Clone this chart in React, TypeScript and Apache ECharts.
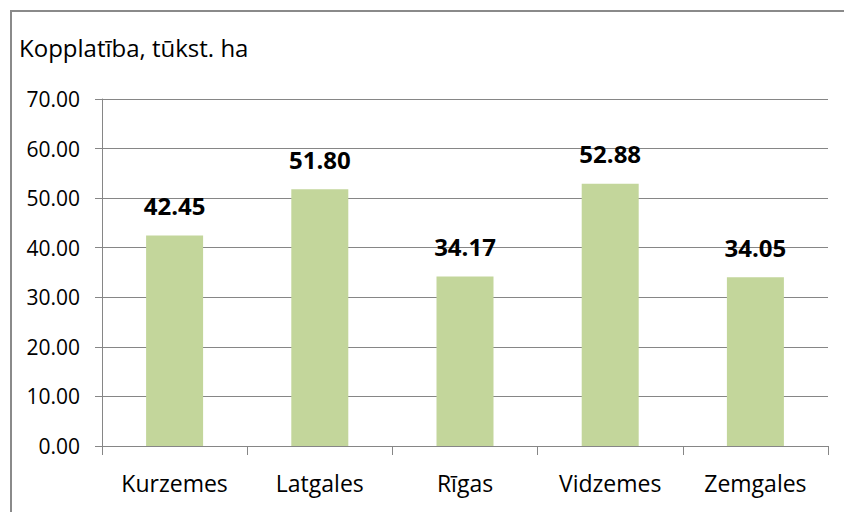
import React, { useEffect, useRef } from "react";
import * as echarts from "echarts";

const categories = ["Kurzemes", "Latgales", "Rīgas", "Vidzemes", "Zemgales"];
const values = [42.45, 51.8, 34.17, 52.88, 34.05];
const titleText = "Kopplatība, tūkst. ha";
const FONT = "'Open Sans', 'Liberation Sans', sans-serif";

export default function App() {
  const ref = useRef<HTMLDivElement>(null);
  useEffect(() => {
    if (!ref.current) return;
    const chart = echarts.init(ref.current, undefined, { renderer: "svg" });
    chart.setOption({
      animation: false,
      backgroundColor: "#ffffff",
      graphic: [
        {
          type: "rect",
          shape: { x: 11, y: 11, width: 900, height: 600 },
          style: { fill: "none", stroke: "#8a8a8a", lineWidth: 2 },
          silent: true,
        },
      ],
      title: {
        text: titleText,
        left: 14,
        top: 30,
        textStyle: { fontFamily: FONT, fontSize: 24, fontWeight: "normal", color: "#000" },
      },
      grid: { left: 102, right: 16, top: 99, bottom: 66, containLabel: false },
      xAxis: {
        type: "category",
        data: categories,
        axisLine: { show: true, lineStyle: { color: "#868686", width: 1 } },
        axisTick: { show: true, length: 9, alignWithLabel: false, lineStyle: { color: "#868686" } },
        axisLabel: { fontFamily: FONT, fontSize: 23, color: "#000", margin: 25 },
      },
      yAxis: {
        type: "value",
        min: 0,
        max: 70,
        interval: 10,
        axisLine: { show: true, lineStyle: { color: "#868686", width: 1 } },
        axisTick: { show: true, length: 7, lineStyle: { color: "#868686" } },
        splitLine: { show: true, lineStyle: { color: "#868686", width: 1 } },
        axisLabel: {
          fontFamily: FONT,
          fontSize: 21,
          color: "#000",
          margin: 22,
          formatter: (v: number) => v.toFixed(2),
        },
      },
      series: [
        {
          type: "bar",
          data: values,
          barWidth: 57,
          itemStyle: { color: "#c3d69b" },
          label: {
            show: true,
            position: "top",
            distance: 18,
            fontFamily: FONT,
            fontSize: 24,
            fontWeight: "bold",
            color: "#000",
            formatter: (p: any) => Number(p.value).toFixed(2),
          },
        },
      ],
    });
    return () => chart.dispose();
  }, []);
  return (
    <div
      ref={ref}
      style={{ position: "absolute", left: 0, top: 0, width: 844, height: 512 }}
    />
  );
}
